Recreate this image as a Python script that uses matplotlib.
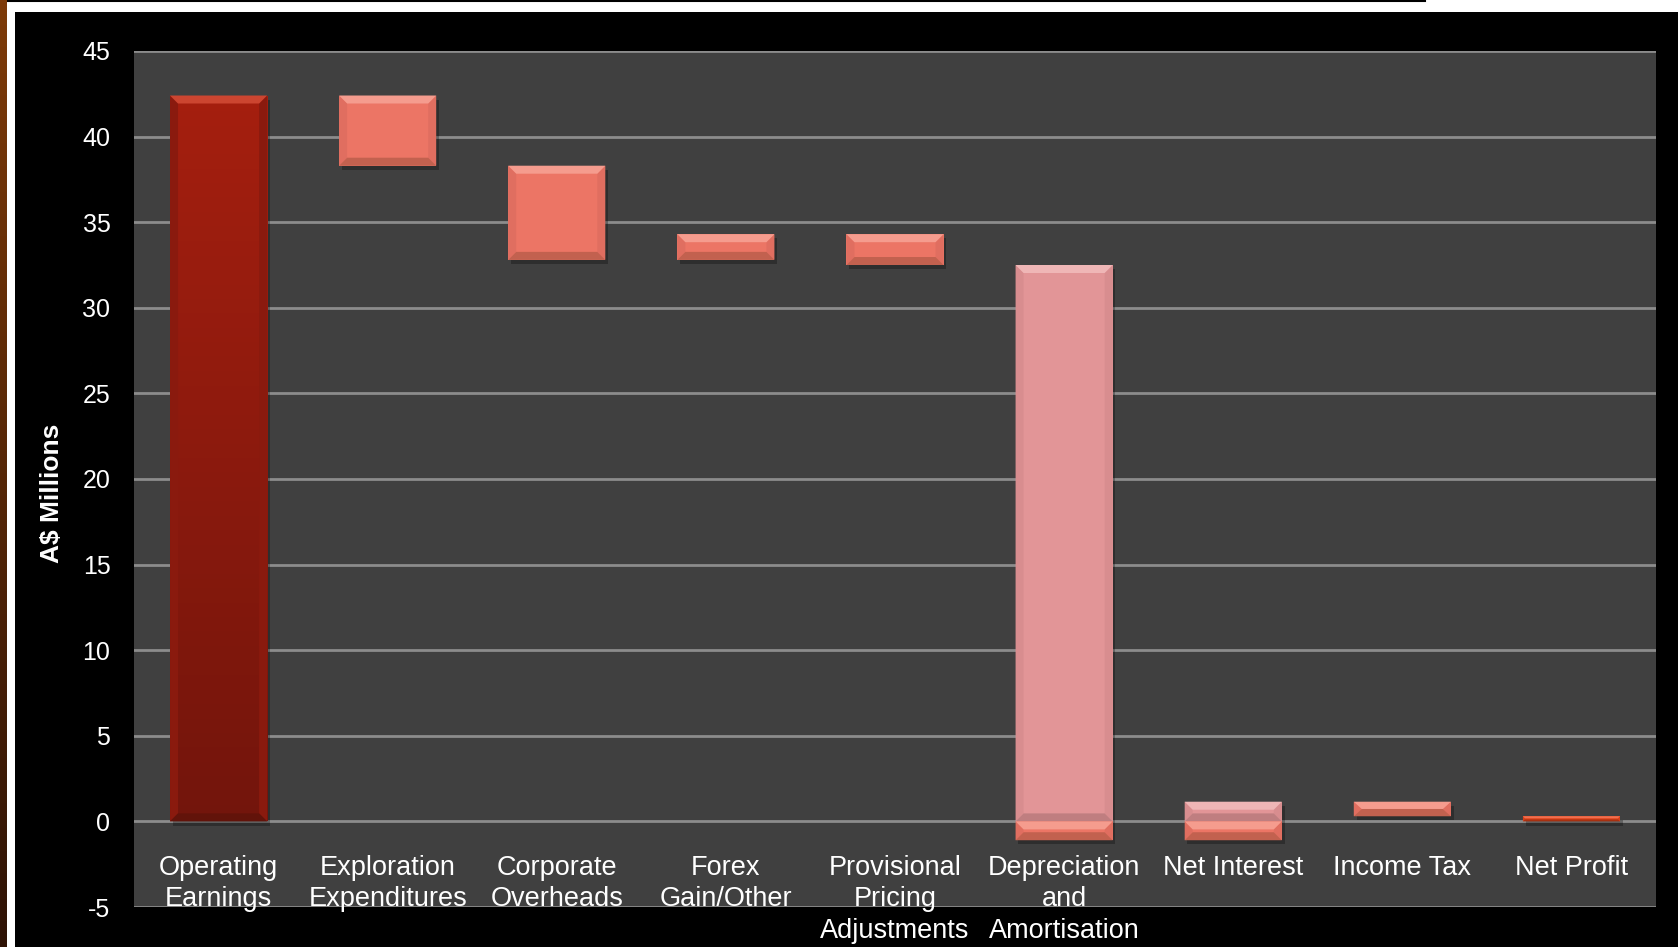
import numpy as np
import matplotlib
matplotlib.use("Agg")
import matplotlib.pyplot as plt
from matplotlib.patches import Rectangle, Polygon
from matplotlib.colors import LinearSegmentedColormap
from matplotlib.lines import Line2D
import matplotlib.patheffects as pe

plt.rcParams["font.family"] = ["Liberation Sans", "DejaVu Sans"]
plt.rcParams["axes.unicode_minus"] = False

# waterfall steps (A$ millions)
categories = ["Operating\nEarnings", "Exploration\nExpenditures", "Corporate\nOverheads",
              "Forex\nGain/Other", "Provisional\nPricing\nAdjustments",
              "Depreciation\nand\nAmortisation", "Net Interest", "Income Tax", "Net Profit"]
step_start = [0, 42.4, 38.3, 32.8, 34.3, 32.5, -1.1, 1.15, 0]
step_end = [42.4, 38.3, 32.8, 34.3, 32.5, -1.1, 1.15, 0.3, 0.3]
y_ticks = [-5, 0, 5, 10, 15, 20, 25, 30, 35, 40, 45]

W, H = 1678, 947
fig = plt.figure(figsize=(W / 100, H / 100), dpi=100, facecolor="white")

# outer frame: black panel, brown strip
fig.add_artist(Rectangle((15 / W, 0), 1, 1 - 12 / H, transform=fig.transFigure,
                         facecolor="black", edgecolor="none", zorder=-5))
fig.add_artist(Line2D([0, 1425 / W], [1 - 1 / H, 1 - 1 / H], color="black", lw=1.5, zorder=-4))
strip = fig.add_axes([0, 0, 7 / W, 1])
strip.imshow(np.linspace(1, 0, 256).reshape(-1, 1), aspect="auto",
             cmap=LinearSegmentedColormap.from_list("br", ["#2e1204", "#7d3a08"]))
strip.axis("off")

ax = fig.add_axes([134 / W, 40 / H, (1656 - 134) / W, (907 - 51) / H])
ax.set_facecolor("#404040")
ax.set_xlim(-0.5, len(categories) - 0.5)
ax.set_ylim(-5, 45)
ax.set_yticks(y_ticks)
ax.set_xticks([])
for s in ax.spines.values():
    s.set_visible(False)
ax.grid(axis="y", color="#8c8c8c", lw=2)
ax.set_axisbelow(True)
ax.tick_params(axis="y", length=0, pad=17, labelsize=18, labelcolor="white")

# px -> data units
bb = ax.get_window_extent()
dx_px = (len(categories)) / bb.width
dy_px = 50 / bb.height

shadow = [pe.SimplePatchShadow(offset=(2, -3), shadow_rgbFace="black", alpha=0.28), pe.Normal()]


def bevel_bar(x0, x1, y0, y1, face, light, dark, side, bev=8, gradient=None):
    bx = min(bev * dx_px, (x1 - x0) / 2)
    by = min(bev * dy_px, (y1 - y0) / 2)
    rect = Rectangle((x0, y0), x1 - x0, y1 - y0, facecolor=face, edgecolor="none",
                     zorder=3, path_effects=shadow)
    ax.add_patch(rect)
    if gradient is not None:
        im = ax.imshow(np.linspace(0, 1, 256).reshape(-1, 1), aspect="auto",
                       extent=(x0, x1, y0, y1), origin="lower", cmap=gradient, zorder=3.5)
        im.set_clip_path(rect)
    polys = [
        ([(x0, y0), (x0, y1), (x0 + bx, y1 - by), (x0 + bx, y0 + by)], side),
        ([(x1, y0), (x1, y1), (x1 - bx, y1 - by), (x1 - bx, y0 + by)], side),
        ([(x0, y1), (x1, y1), (x1 - bx, y1 - by), (x0 + bx, y1 - by)], light),
        ([(x0, y0), (x1, y0), (x1 - bx, y0 + by), (x0 + bx, y0 + by)], dark),
    ]
    for pts, c in polys:
        ax.add_patch(Polygon(pts, closed=True, facecolor=c, edgecolor="none", zorder=4))


salmon = ("#ec7565", "#f59c8e", "#c2614f", "#e06e60")
pink = ("#e29597", "#efb6b6", "#bf7e80", "#d88d8f")
red_grad = LinearSegmentedColormap.from_list("rg", ["#73150c", "#a51f0f"])
red = ("#8c1b0e", "#cc4530", "#62130a", "#8a1a0e")
orange = ("#e0441c", "#f07050", "#a83010", "#d83f1a")

width = 0.574
last = len(categories) - 1
for i, (a, b) in enumerate(zip(step_start, step_end)):
    lo, hi = min(a, b), max(a, b)
    x0, x1 = i - width / 2, i + width / 2
    if i == 0:
        bevel_bar(x0, x1, lo, hi, *red, gradient=red_grad)
    elif i == last:
        bevel_bar(x0, x1, lo, hi, *orange, bev=2)
    elif lo < 0 < hi:
        bevel_bar(x0, x1, 0, hi, *pink)
        bevel_bar(x0, x1, lo, 0, *salmon)
    else:
        bevel_bar(x0, x1, lo, hi, *salmon)

for i, cat in enumerate(categories):
    ax.text(i, -1.95, cat, ha="center", va="top", color="white", fontsize=19.5,
            linespacing=1.27, zorder=5, clip_on=False)

fig.text(52 / W, 1 - 493 / H, "A$ Millions", rotation=90, ha="center", va="center",
         color="white", fontsize=19, fontweight="bold")

fig.savefig("out.png", dpi=100, facecolor=fig.get_facecolor())
